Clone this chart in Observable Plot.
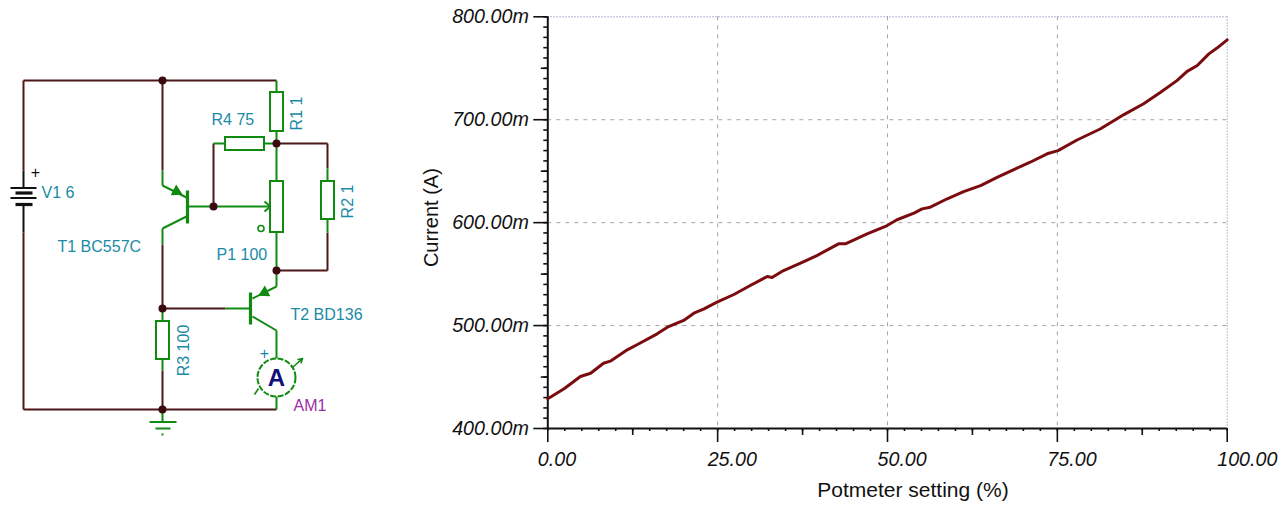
<!DOCTYPE html>
<html>
<head>
<meta charset="utf-8">
<script src="https://cdn.jsdelivr.net/npm/d3@7"></script>
<script src="https://cdn.jsdelivr.net/npm/@observablehq/plot@0.6"></script>
<style>
html,body{margin:0;padding:0;background:#fff;overflow:hidden}
#wrap{position:relative;width:1280px;height:510px}
#wrap>svg{position:absolute;top:0;left:0;background:transparent}
</style>
</head>
<body>
<div id="wrap"></div>
<script>
// Measured curve
const setting = [0,2.4,4.8,6.3,8.2,9.2,11.7,13.2,16.1,17.6,20,21.5,23,24.9,27.4,29.8,32.3,33,34.7,37.2,39.6,42.8,43.8,47,49.7,51.4,53.9,55.1,56.3,58.8,61.2,63.7,66.2,68.6,71,73.5,75.1,77.9,81.3,84.8,87.7,90.2,92.6,94.1,95.6,97.3,98.5,100];
const current = [428.9,438.6,450.5,453.7,463.4,465.4,476.4,481.6,492,498.4,505,512,516.3,522.7,530.2,538.9,547.7,546.7,553.5,560.6,568,579.4,579.4,589,596.3,602.8,609.2,613.4,615,623.2,630.2,636,644.2,651.6,658.7,666.9,670,680.3,691,705,715.5,726.7,738,747,752.7,764,769.6,777.6];

// Axis ticks
const xMajor = [0,25,50,75,100];
const yMajor = [400,500,600,700,800];
const xMid = [12.5,37.5,62.5,87.5];
const yMid = [450,550,650,750];
const xMinor = d3.range(0,100.01,2.5);
const yMinor = d3.range(400,800.01,10);
const xLabel = "Potmeter setting (%)";
const yLabel = "Current (A)";

// Circuit diagram, in diagram units
const brownWires = [[23,80,276,80],[23,80,23,170],[23,232,23,409],[23,409,276,409],[162,80,162,170],[162,244,162,308],[162,308,225,308],[162,370,162,409],[213,143,213,206],[276,143,327,143],[327,143,327,168],[327,232,327,270],[327,270,276,270]];
const greenWires = [[162,170,162,185],[162,185,186,197],[186,216,162,228],[162,228,162,244],[187,206,270,206],[264,201,270,206],[264,211,270,206],[276,80,276,92],[276,131,276,181],[276,232,276,286],[276,286,252,298],[225,308,250,308],[252,316,276,330],[276,330,276,358],[276,396,276,409],[276,143,264,143],[225,143,213,143],[327,168,327,181],[327,219,327,232],[162,308,162,321],[162,359,162,370],[162,409,162,421]];
const greenBars = [[187,190,187,223],[250,292,250,324]];
const groundBars = [[149,421.5,176,421.5],[155,428,170,428],[161,434,163,434]];
const blackWires = [[23,170,23,187],[23,204,23,232]];
const batteryLong = [[10,187.5,36,187.5],[10,197.5,36,197.5]];
const batteryShort = [[15,192.5,32,192.5],[15,204,32,204]];
const bodies = [[270,92,283,131],[225,137,264,150],[270,181,283,232],[321,181,334,219],[156,321,169,359]];
const junctions = [[162,80],[276,143],[213,206],[276,270],[162,308],[162,409]];
const emitterArrows = [[176,191,117],[264,292,243]];
const ammeterArrow = [[292,367,302,358]];
const ammeterTail = [[254,394,258,388]];
const ammeterCentre = [[276,377]];
const wiperDot = [[260.5,228]];
const tealLabels = [["V1 6",41,192,0],["T1 BC557C",57,246,0],["R4 75",211,119,0],["P1 100",216,254,0],["T2 BD136",290,314,0]];
const tealRotated = [["R1 1",296,113],["R2 1",347,201],["R3 100",183,350]];
const plusMarks = [["+",35,172,"#111"],["+",264,353,"#1a7fb0"]];

const seg = () => ({x1:d=>d[0],y1:d=>d[1],x2:d=>d[2],y2:d=>d[3]});
const sans = "'Liberation Sans', Arial, sans-serif";
const wrap = document.getElementById("wrap");
const noText = () => "";

const schematic = Plot.plot({
  width:400, height:510, margin:0,
  x:{domain:[0,400],range:[0,400],axis:null},
  y:{domain:[0,510],range:[0,510],axis:null},
  style:{fontFamily:sans,background:"transparent"},
  marks:[
    Plot.link(brownWires,{...seg(),stroke:"#4b1717",strokeWidth:2}),
    Plot.link(blackWires,{...seg(),stroke:"#111",strokeWidth:2}),
    Plot.link(batteryLong,{...seg(),stroke:"#111",strokeWidth:2}),
    Plot.link(batteryShort,{...seg(),stroke:"#111",strokeWidth:3.2}),
    Plot.link(greenWires,{...seg(),stroke:"#108a10",strokeWidth:2}),
    Plot.link(greenBars,{...seg(),stroke:"#108a10",strokeWidth:3.2}),
    Plot.link(groundBars,{...seg(),stroke:"#108a10",strokeWidth:2}),
    Plot.rect(bodies,{x1:d=>d[0],y1:d=>d[1],x2:d=>d[2],y2:d=>d[3],stroke:"#108a10",strokeWidth:2,fill:"#fff"}),
    Plot.dot(emitterArrows,{x:d=>d[0],y:d=>d[1],rotate:d=>d[2],symbol:"triangle2",r:4.5,fill:"#108a10",stroke:"#108a10"}),
    Plot.dot(junctions,{x:d=>d[0],y:d=>d[1],r:4,fill:"#3a0a10"}),
    Plot.dot(wiperDot,{x:d=>d[0],y:d=>d[1],r:3,stroke:"#108a10",strokeWidth:1.6,fill:"none"}),
    Plot.dot(ammeterCentre,{x:d=>d[0],y:d=>d[1],r:19,stroke:"#108a10",strokeWidth:2,fill:"#fff",strokeDasharray:"6,1.5"}),
    Plot.arrow(ammeterArrow,{x1:d=>d[0],y1:d=>d[1],x2:d=>d[2],y2:d=>d[3],stroke:"#108a10",strokeWidth:1.6,headLength:9}),
    Plot.link(ammeterTail,{...seg(),stroke:"#108a10",strokeWidth:1.6}),
    Plot.text(["A"],{x:()=>276,y:()=>378,fill:"#10107a",fontSize:24,fontWeight:"bold"}),
    Plot.text(tealLabels,{text:d=>d[0],x:d=>d[1],y:d=>d[2],textAnchor:"start",fill:"#1a8aa6",fontSize:16}),
    Plot.text(tealRotated,{text:d=>d[0],x:d=>d[1],y:d=>d[2],rotate:-90,fill:"#1a8aa6",fontSize:16}),
    Plot.text(["AM1"],{x:()=>293,y:()=>405,textAnchor:"start",fill:"#9b2fa8",fontSize:16}),
    Plot.text(plusMarks,{text:d=>d[0],x:d=>d[1],y:d=>d[2],fill:d=>d[3],fontSize:16})
  ]
});

const chart = Plot.plot({
  width:1280, height:510,
  marginLeft:547.3, marginRight:53.3, marginTop:16.3, marginBottom:82,
  x:{domain:[0,100],axis:null},
  y:{domain:[400,800],axis:null},
  style:{fontFamily:sans,background:"transparent",color:"#111",overflow:"visible"},
  marks:[
    Plot.ruleX([25,50,75],{stroke:"#a6a6a6",strokeWidth:1,strokeDasharray:"4,5"}),
    Plot.ruleY([500,600,700],{stroke:"#a6a6a6",strokeWidth:1,strokeDasharray:"4,5"}),
    Plot.ruleY([800],{stroke:"#9c9cc0",strokeWidth:1,strokeDasharray:"1.5,1.5"}),
    Plot.ruleX([100],{stroke:"#9cb0a8",strokeWidth:1,strokeDasharray:"1.5,1.5"}),
    Plot.axisY({ticks:yMinor,tickSize:4,tickFormat:noText,label:null,strokeWidth:1.6,stroke:"#111"}),
    Plot.axisY({ticks:yMid,tickSize:6.5,tickFormat:noText,label:null,strokeWidth:1.6,stroke:"#111"}),
    Plot.axisY({ticks:yMajor,tickSize:14,tickPadding:5,tickFormat:d=>d.toFixed(2)+"m",fontSize:19.7,fontStyle:"italic",label:null,strokeWidth:1.6,stroke:"#111",fill:"#111"}),
    Plot.axisX({ticks:xMinor,tickSize:3,tickFormat:noText,label:null,strokeWidth:1.6,stroke:"#111"}),
    Plot.axisX({ticks:xMid,tickSize:7,tickFormat:noText,label:null,strokeWidth:1.6,stroke:"#111"}),
    Plot.axisX({ticks:xMajor,tickSize:14,tickFormat:noText,label:null,strokeWidth:1.6,stroke:"#111"}),
    Plot.axisX({ticks:xMajor,tickSize:0,tickPadding:23,tickFormat:d=>d.toFixed(2),fontSize:19.7,fontStyle:"italic",textAnchor:"start",dx:-10,label:null,fill:"#111"}),
    Plot.ruleX([0],{stroke:"#111",strokeWidth:2}),
    Plot.ruleY([400],{stroke:"#111",strokeWidth:2}),
    Plot.line(setting,{x:d=>d,y:(d,i)=>current[i],stroke:"#7a0c10",strokeWidth:3}),
    Plot.text([xLabel],{frameAnchor:"bottom",textAnchor:"middle",dy:62,dx:25.5,fontSize:21,fill:"#111",lineAnchor:"middle"}),
    Plot.text([yLabel],{frameAnchor:"left",textAnchor:"middle",dx:-116,dy:-5,rotate:-90,fontSize:20,fill:"#111"})
  ]
});

wrap.appendChild(chart);
wrap.appendChild(schematic);
</script>
</body>
</html>
